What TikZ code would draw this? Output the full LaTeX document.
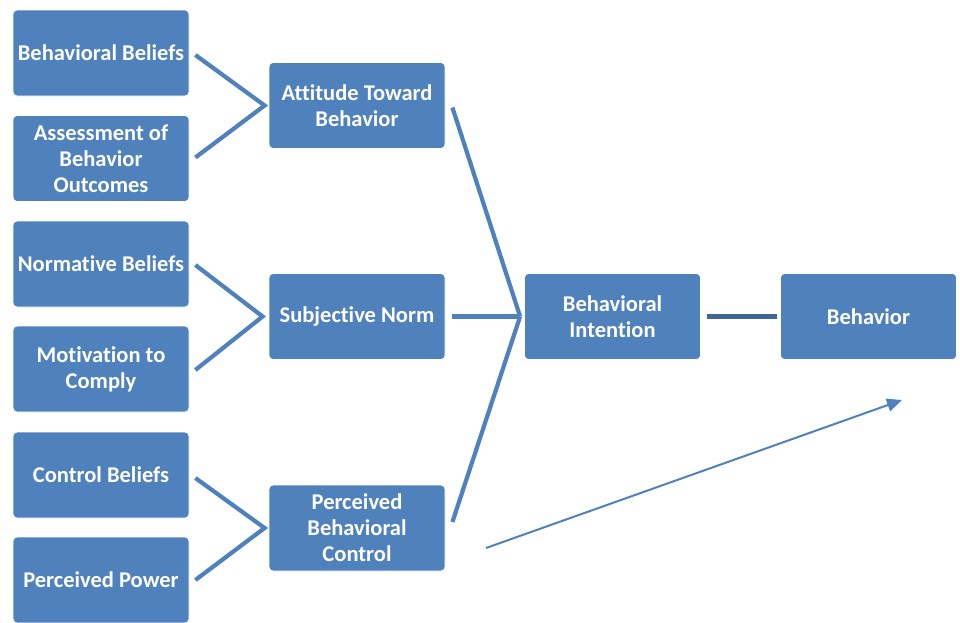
\documentclass[tikz,border=0pt]{standalone}
\usepackage{fontspec}
\setmainfont{Carlito}[Ligatures=CommonOff]
\usetikzlibrary{arrows.meta,calc}
\definecolor{boxblue}{RGB}{79,129,189}
\definecolor{darkline}{RGB}{62,102,152}
\begin{document}
\begin{tikzpicture}[x=1pt,y=-1pt,
  box/.style={draw=white, line width=0.8pt, fill=boxblue, rounded corners=4pt,
    minimum width=176pt, minimum height=86pt, inner sep=2pt, align=center,
    text=white, font=\fontsize{22.5}{26}\selectfont\bfseries},
  conn/.style={draw=boxblue, line width=4.2pt},
  arr/.style={draw=boxblue, line width=2pt, -{Triangle[length=15pt,width=13pt]}}]
\useasboundingbox (0,0) rectangle (960,622);
% left column
\node[box] (bb) at (101,53) {Behavioral Beliefs};
\node[box] (as) at (101,158.5) {Assessment of\\Behavior\\Outcomes};
\node[box] (nb) at (101,264) {Normative Beliefs};
\node[box] (mc) at (101,369) {Motivation to\\Comply};
\node[box] (cb) at (101,475) {Control Beliefs};
\node[box] (pp) at (101,580) {Perceived Power};
% middle column
\node[box] (at) at (357,105.5) {Attitude Toward\\Behavior};
\node[box] (sn) at (357,316.5) {Subjective Norm};
\node[box] (pbc) at (357,528) {Perceived\\Behavioral\\Control};
% right
\node[box] (bi) at (612.5,316.5) {Behavioral\\Intention};
\node[box] (bh) at (868.5,316.5) {Behavior};
% vertices
\coordinate (vat) at ($(at.west)+(-4,0)$);
\coordinate (vsn) at ($(sn.west)+(-6,0)$);
\coordinate (vpbc) at ($(pbc.west)+(-4,0)$);
\coordinate (vbi) at ($(bi.west)+(-4,0)$);
\draw[conn] ($(bb.east)+(6,2)$) -- (vat) -- ($(as.east)+(6,-1)$);
\draw[conn] ($(nb.east)+(6,1)$) -- (vsn) -- ($(mc.east)+(6,1)$);
\draw[conn] ($(cb.east)+(6,3)$) -- (vpbc) -- ($(pp.east)+(6,0)$);
\draw[conn] ($(at.east)+(7,2)$) -- (vbi);
\draw[conn] ($(sn.east)+(7,0)$) -- (vbi);
\draw[conn] ($(pbc.east)+(7,-6)$) -- (vbi);
\draw[conn, draw=darkline] ($(bi.east)+(6,0)$) -- ($(bh.west)+(-3,0)$);
\coordinate (a1) at (486,548);
\coordinate (a2) at (902,400);
\draw[arr] (a1) -- (a2);
\end{tikzpicture}
\end{document}
